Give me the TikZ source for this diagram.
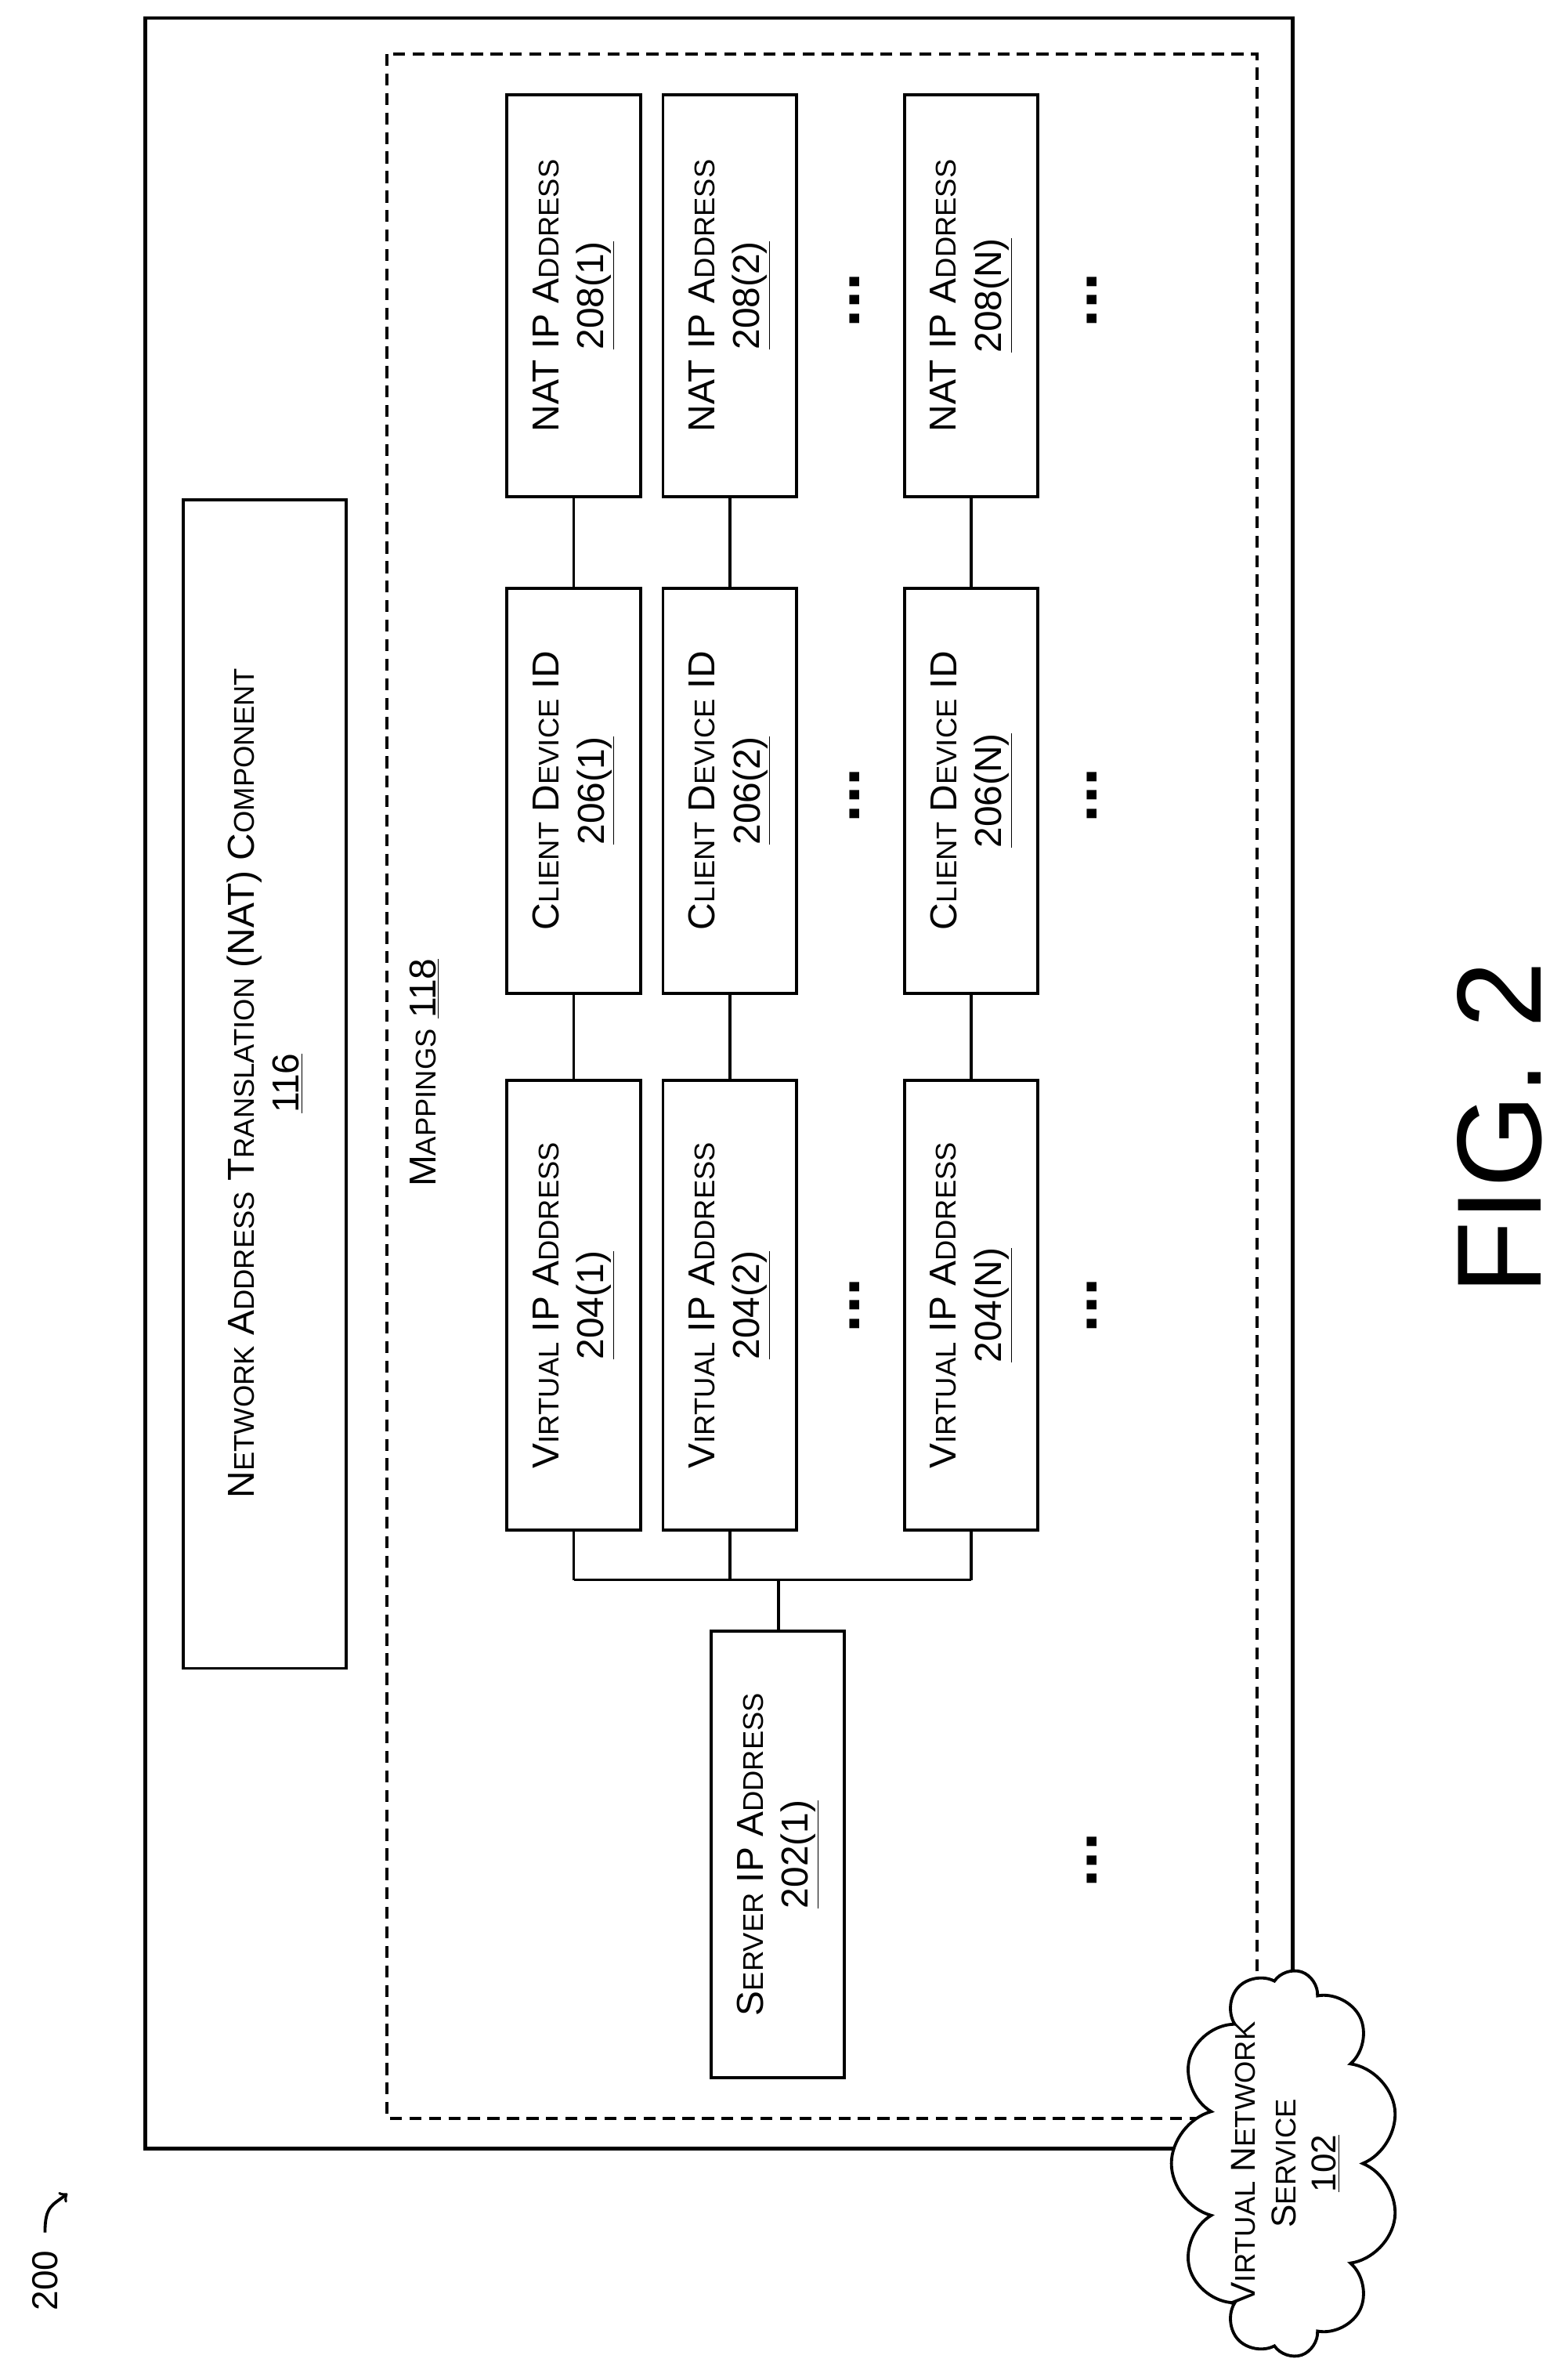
\documentclass[tikz,border=0pt]{standalone}
\usepackage{fontspec}
\setmainfont{Liberation Sans}
\usetikzlibrary{shapes.symbols}
\newcommand\sm[1]{{\fontsize{19}{22}\selectfont #1}}
\tikzset{
  box/.style={draw,line width=2pt,fill=white},
  lbl/.style={rotate=90,align=center,font=\fontsize{25}{30}\selectfont},
  link/.style={line width=2pt},
  dots/.style={font=\fontsize{44}{44}\selectfont\bfseries,rotate=90}
}
\begin{document}
\begin{tikzpicture}[x=1pt,y=-1pt]
\useasboundingbox (0,0) rectangle (1045,1577);
% outer boxes
\draw [line width=2.4pt] (97,12) rectangle (862,1432);
\draw [line width=2.4pt,dashed,dash pattern=on 8pt off 5pt] (258,36) rectangle (838,1412);
\draw [box] (122,333) rectangle (231,1112);
\node [lbl] (nat) at (176.5,722) {N\sm{ETWORK} A\sm{DDRESS} T\sm{RANSLATION} (NAT) C\sm{OMPONENT}\\\underline{116}};
\node [lbl,anchor=center] (map) at (283,715) {M\sm{APPINGS} \underline{118}};
% rows
\foreach \x/\i/\c in {338/1/a,442/2/b,603/N/c}{
  \draw [box] (\x,63) rectangle +(89,268);
  \node [lbl] (ip\c) at (\x+44.5,197) {NAT IP A\sm{DDRESS}\\\underline{208(\i)}};
  \draw [box] (\x,392) rectangle +(89,270);
  \node [lbl] (cl\c) at (\x+44.5,527) {C\sm{LIENT} D\sm{EVICE} ID\\\underline{206(\i)}};
  \draw [box] (\x,720) rectangle +(89,300);
  \node [lbl] (vi\c) at (\x+44.5,870) {V\sm{IRTUAL} IP A\sm{DDRESS}\\\underline{204(\i)}};
  \draw [link] (\x+44.5,331) -- (\x+44.5,392);
  \draw [link] (\x+44.5,662) -- (\x+44.5,720);
  \draw [link] (\x+44.5,1020) -- (\x+44.5,1053);
}
\draw [link] (382.5,1053) -- (647.5,1053);
\draw [link] (519,1053) -- (519,1087);
\draw [box] (474,1087) rectangle (563,1385);
\node [lbl] (srv) at (518.5,1236) {S\sm{ERVER} IP A\sm{DDRESS}\\\underline{202(1)}};
% dots
\foreach \y in {200,530,870}{
  \node [dots] at (570,\y) {...};
  \node [dots] at (728,\y) {...};
}
\node [dots] at (728,1240) {...};
% cloud
\node [cloud,draw,line width=2pt,fill=white,cloud puffs=11,aspect=1.7,minimum width=258,minimum height=152,rotate=90,inner sep=0pt] (vns) at (857,1442) {};
\node [lbl,font=\fontsize{23}{27}\selectfont] (vnst) at (vns) {V\sm{IRTUAL} N\sm{ETWORK}\\S\sm{ERVICE}\\\underline{102}};
\node [rotate=90,font=\fontsize{80}{80}\selectfont] (fig) at (1000,752) {FIG. 2};
\node [rotate=90,font=\fontsize{24}{28}\selectfont] (num) at (30,1520) {200};
\draw [->,line width=2pt] (30,1488) .. controls (30,1470) and (35,1470) .. (45,1462);
\end{tikzpicture}
\end{document}
